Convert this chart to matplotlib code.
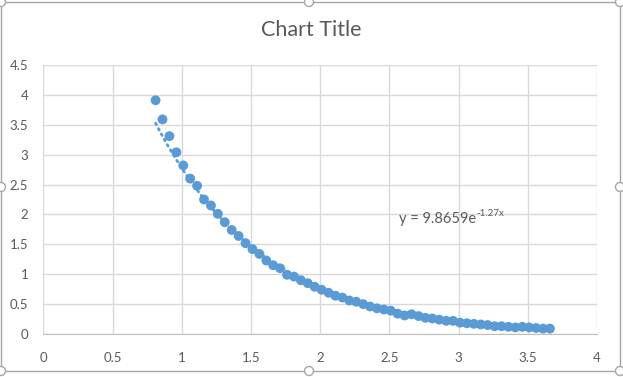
import numpy as np
import matplotlib.pyplot as plt
from matplotlib.patches import Rectangle, Circle

# values
x_vals = [0.81, 0.86, 0.91, 0.96, 1.01, 1.06, 1.11, 1.16, 1.21, 1.26,
          1.31, 1.36, 1.41, 1.46, 1.51, 1.56, 1.61, 1.66, 1.71, 1.76,
          1.81, 1.86, 1.91, 1.96, 2.01, 2.06, 2.11, 2.16, 2.21, 2.26,
          2.31, 2.36, 2.41, 2.46, 2.51, 2.56, 2.61, 2.66, 2.71, 2.76,
          2.81, 2.86, 2.91, 2.96, 3.01, 3.06, 3.11, 3.16, 3.21, 3.26,
          3.31, 3.36, 3.41, 3.46, 3.51, 3.56, 3.61, 3.66]
y_vals = [3.91, 3.59, 3.31, 3.04, 2.82, 2.60, 2.48, 2.25, 2.15, 2.01,
          1.87, 1.74, 1.64, 1.52, 1.42, 1.34, 1.23, 1.15, 1.10, 0.99,
          0.96, 0.90, 0.85, 0.79, 0.74, 0.69, 0.64, 0.61, 0.56, 0.54,
          0.50, 0.46, 0.43, 0.41, 0.39, 0.34, 0.31, 0.33, 0.30, 0.27,
          0.26, 0.24, 0.22, 0.22, 0.19, 0.18, 0.17, 0.16, 0.15, 0.13,
          0.13, 0.12, 0.11, 0.12, 0.11, 0.10, 0.09, 0.09]

# exponential trendline as shown on chart
trend_a = 9.8659
trend_b = -1.27
eq_base = "y = 9.8659e"
eq_exp = "-1.27x"

x_ticks = [0, 0.5, 1, 1.5, 2, 2.5, 3, 3.5, 4]
y_ticks = [0, 0.5, 1, 1.5, 2, 2.5, 3, 3.5, 4, 4.5]

plt.rcParams['font.family'] = ['Lato', 'DejaVu Sans']

blue = "#5b9bd5"
txt = "#595959"
grid = "#d9d9d9"

W, H = 623, 377
fig = plt.figure(figsize=(W / 100, H / 100), dpi=100)
ax = fig.add_axes([43.5 / W, 1 - 334 / H, (597 - 43.5) / W, (334 - 65) / H])

tx = np.linspace(min(x_vals), max(x_vals), 200)
ax.plot(tx, trend_a * np.exp(trend_b * tx), linestyle=(0, (0.6, 1.6)),
        color=blue, linewidth=2, dash_capstyle="round", zorder=2)
ax.scatter(x_vals, y_vals, s=50, color=blue, edgecolors="none", zorder=3)

ax.set_xlim(0, 4)
ax.set_ylim(0, 4.5)
ax.set_xticks(x_ticks)
ax.set_yticks(y_ticks)
ax.set_xticklabels([f"{t:g}" for t in x_ticks])
ax.set_yticklabels([f"{t:g}" for t in y_ticks])
ax.grid(True, color=grid, linewidth=1)
ax.set_axisbelow(True)
for s in ["top", "right", "left"]:
    ax.spines[s].set_visible(False)
ax.spines["bottom"].set_color("#bfbfbf")
ax.tick_params(length=0, colors=txt, labelsize=9.5)
ax.tick_params(axis="x", pad=13)
ax.tick_params(axis="y", pad=11)

t1 = ax.text(2.57, 1.93, eq_base, fontsize=10.5, color=txt,
             ha="left", va="center")
ax.annotate(eq_exp, xy=(1.0, 0.9), xycoords=t1, fontsize=7, color=txt,
            ha="left", va="center")

fig.text(0.5, 1 - 30 / H, "Chart Title", ha="center", va="center",
         fontsize=15.5, color=txt)

# chart frame with selection handles
fig.patches.append(Rectangle((1 / W, 1 - 371 / H), 619 / W, 369 / H,
                             transform=fig.transFigure, fill=False,
                             edgecolor="#a6a6a6", linewidth=1))
for hx, hy in [(1, 2), (309, 2), (620, 2), (1, 187), (620, 187),
               (1, 371), (309, 371), (620, 371)]:
    fig.patches.append(Circle((hx, H - hy), 4.5, transform=None,
                              facecolor="white", edgecolor="#a6a6a6",
                              linewidth=1))

fig.savefig("out.png", dpi=100)
